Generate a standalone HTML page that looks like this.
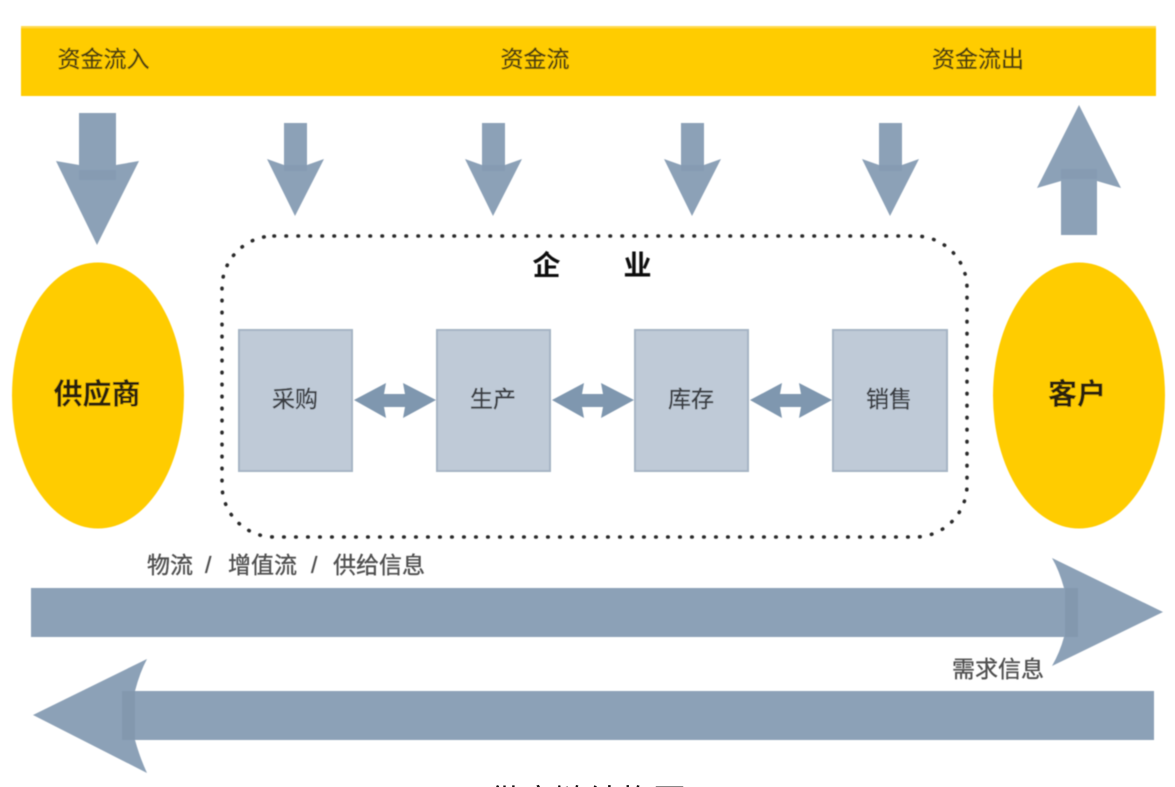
<!DOCTYPE html>
<html lang="zh">
<head>
<meta charset="utf-8">
<title>供应链结构图</title>
<style>
html,body{margin:0;padding:0;background:#fff;width:1175px;height:787px;overflow:hidden}
svg{display:block}
text{font-family:"Liberation Sans","Noto Sans CJK SC",sans-serif}
</style>
</head>
<body>
<svg xmlns="http://www.w3.org/2000/svg" width="1175" height="787" viewBox="0 0 1175 787">
<defs>
<filter id="b" x="-2%" y="-2%" width="104%" height="104%"><feGaussianBlur stdDeviation="0.6"/></filter>
</defs>
<rect width="1175" height="787" fill="#fff"/>
<g filter="url(#b)">
  <rect x="21" y="26" width="1135" height="70" fill="#ffcc00"/>
  <rect x="21" y="26" width="1135" height="2" fill="#ffdb4d"/>
  <g font-size="23" fill="#4d400a" stroke="#4d400a" stroke-width="0.35" text-anchor="middle">
    <text x="103.500" y="67">资金流入</text>
    <text x="535" y="67">资金流</text>
    <text x="978" y="67">资金流出</text>
  </g>

  <!-- top arrows -->
  <g fill="#8ca1b7">
    <path d="M79 113H116V165L139 161L97 245L56 161L79 165Z"/>
    <path d="M284 123H307V165L324 159L295 216L267 159L284 165Z"/>
    <path d="M482 123H505V165L522 159L493 216L465 159L482 165Z"/>
    <path d="M681 123H704V165L721 159L692 216L664 159L681 165Z"/>
    <path d="M879 123H902V165L919 159L890 216L862 159L879 165Z"/>
    <path d="M1061 235H1097V181L1121 188L1079 105L1037 188L1061 181Z"/>
  </g>
  <g fill="#869bb2">
    <rect x="79" y="170" width="37" height="10"/>
    <rect x="284" y="165" width="23" height="6"/>
    <rect x="482" y="165" width="23" height="6"/>
    <rect x="681" y="165" width="23" height="6"/>
    <rect x="879" y="165" width="23" height="6"/>
    <rect x="1061" y="169" width="36" height="10"/>
  </g>

  <!-- ellipses -->
  <ellipse cx="98" cy="395.500" rx="86" ry="133" fill="#ffcc00"/>
  <ellipse cx="1079" cy="395.500" rx="86" ry="133" fill="#ffcc00"/>
  <text x="97" y="404" font-size="29" font-weight="bold" fill="#2a2208" text-anchor="middle">供应商</text>
  <text x="1077" y="404" font-size="29" font-weight="bold" fill="#2a2208" text-anchor="middle">客户</text>

  <!-- enterprise boundary -->
  <rect x="222" y="236" width="745" height="301" rx="52" ry="52" fill="none" stroke="#2a2a2a" stroke-width="3.600" stroke-linecap="round" stroke-dasharray="0.500 11.500"/>
  <text x="546.500" y="275" font-size="28" font-weight="bold" fill="#111" text-anchor="middle">企</text>
  <text x="637.500" y="275" font-size="28" font-weight="bold" fill="#111" text-anchor="middle">业</text>

  <!-- boxes -->
  <g fill="#bfcad7" stroke="#a6b4c5" stroke-width="2">
    <rect x="239" y="330" width="113" height="141"/>
    <rect x="437" y="330" width="113" height="141"/>
    <rect x="635" y="330" width="113" height="141"/>
    <rect x="833" y="330" width="114" height="141"/>
  </g>
  <g font-size="23" fill="#3a3d42" stroke="#3a3d42" stroke-width="0.35" text-anchor="middle">
    <text x="295" y="407">采购</text>
    <text x="493" y="407">生产</text>
    <text x="691" y="407">库存</text>
    <text x="889" y="407">销售</text>
  </g>

  <!-- double arrows -->
  <g fill="#7f97af">
    <path d="M354 400L386 383L384 394H405L403 383L436 400L403 418L405 407H384L386 418Z"/>
    <path d="M552 400L584 383L582 394H603L601 383L634 400L601 418L603 407H582L584 418Z"/>
    <path d="M750 400L782 383L780 394H801L799 383L832 400L799 418L801 407H780L782 418Z"/>
  </g>

  <!-- long arrows -->
  <g fill="#8ca1b7">
    <path d="M31 588H1064Q1059 570 1052 558L1163 612L1052 666Q1060 652 1064 637H31Z"/>
    <path d="M1154 691H135Q140 672 147 659L33 715L147 773Q140 758 135 740H1154Z"/>
  </g>
  <rect x="1065" y="588" width="13" height="49" fill="#8398ae"/>
  <rect x="122" y="691" width="13" height="49" fill="#8398ae"/>

  <g font-size="23" fill="#4f4f4f" stroke="#4f4f4f" stroke-width="0.35">
    <text x="147" y="573">物流</text>
    <text x="205" y="573">/</text>
    <text x="228" y="573">增值流</text>
    <text x="311" y="573">/</text>
    <text x="333" y="573">供给信息</text>
    <text x="952" y="677">需求信息</text>
  </g>
</g>
<text x="488" y="813" font-size="33" fill="#111">供应链结构图</text>
</svg>
</body>
</html>
